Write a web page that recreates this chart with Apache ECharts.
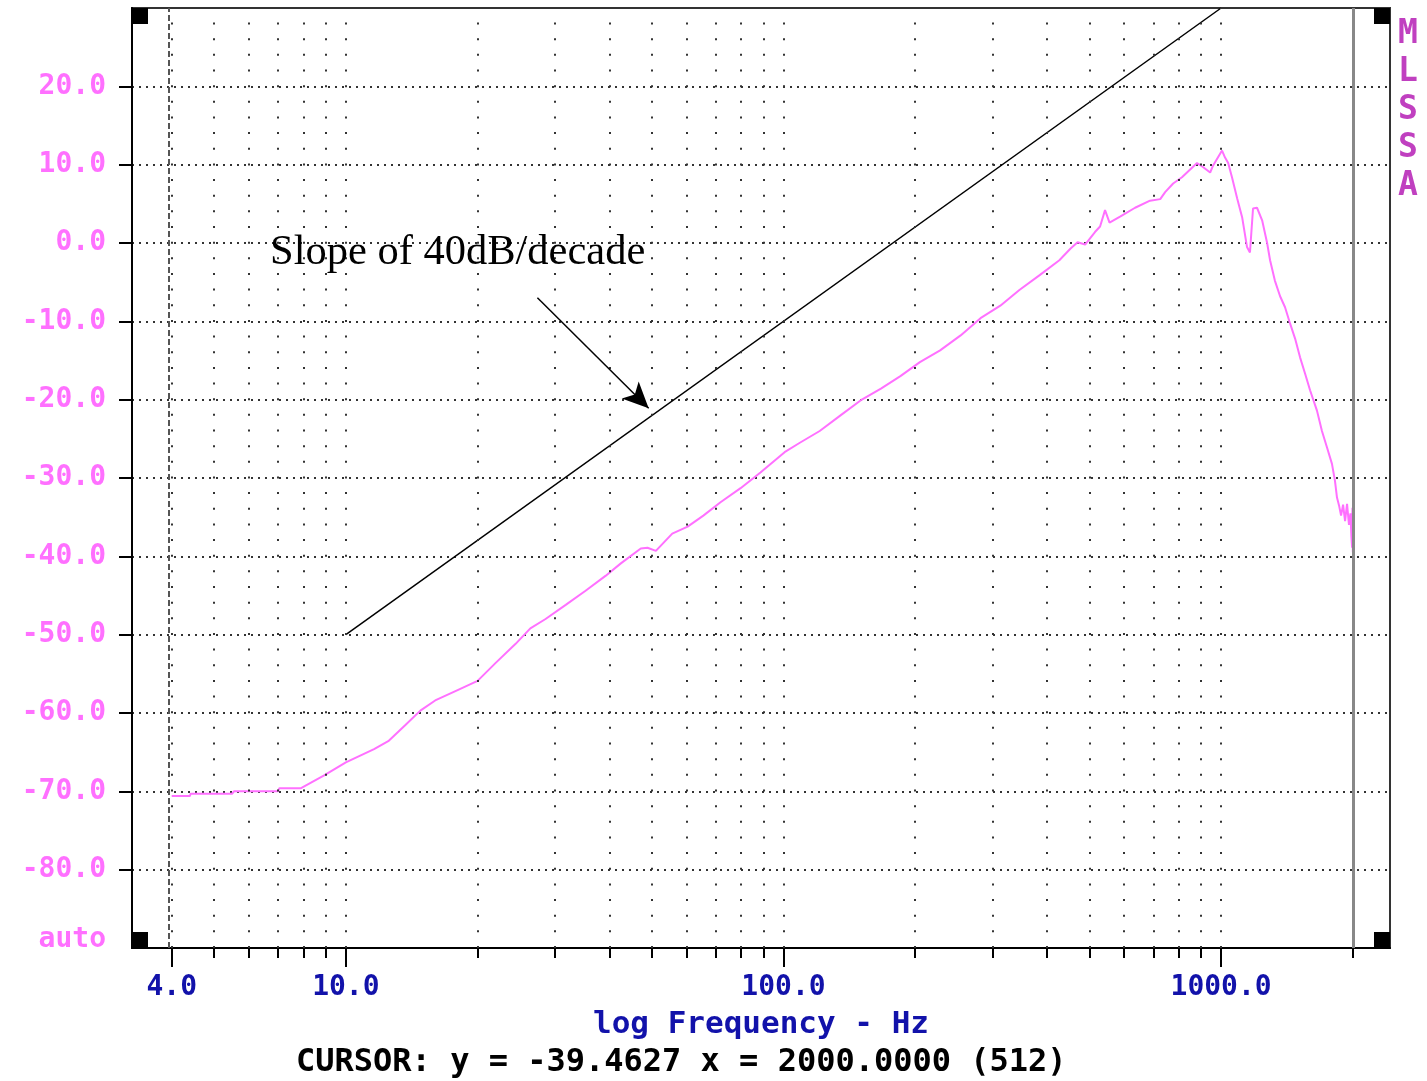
<!DOCTYPE html>
<html>
<head>
<meta charset="utf-8">
<script src="https://cdn.jsdelivr.net/npm/echarts@6/dist/echarts.min.js"></script>
<style>html,body{margin:0;padding:0;background:#fff;}#c{width:1427px;height:1081px;}</style>
</head>
<body>
<div id="c"></div>
<script>
// ---- data ----
const freqHz = [4.0,4.4,4.42,5.5,5.55,7.0,7.05,7.9,8.9,10,11.6,12.5,13.7,14.8,16.0,17.8,20.0,22.0,24.4,26.4,28.6,31.8,35.3,39.2,42.5,47.2,48.9,51.1,55.7,60.4,65.6,71.8,79.8,88.6,100.6,109,121,135,150,167,185,205,228,254,282,313,346,385,427,453,470,489,515,529,543,556,589,636,688,726,745,777,814,881,909,944,959,1005,1021,1038,1060,1088,1117,1146,1164,1183,1208,1241,1274,1294,1327,1364,1400,1438,1476,1515,1556,1597,1656,1700,1746,1792,1820,1840,1860,1880,1900,1920,1940,1960,1975,1985,1992,1996,2000];
const magDb  = [-70.6,-70.6,-70.3,-70.3,-70.0,-70.0,-69.6,-69.6,-68.0,-66.3,-64.6,-63.6,-61.5,-59.7,-58.4,-57.2,-55.9,-53.6,-51.2,-49.2,-48.0,-46.2,-44.4,-42.5,-40.9,-39.0,-38.9,-39.3,-37.1,-36.2,-34.8,-33.1,-31.3,-29.3,-26.7,-25.5,-24.0,-22.0,-20.1,-18.6,-17.0,-15.2,-13.7,-11.8,-9.6,-8.0,-6.0,-4.1,-2.2,-0.7,0.1,-0.2,1.4,2.1,4.2,2.6,3.4,4.5,5.4,5.6,6.5,7.6,8.4,10.2,9.7,9.0,9.9,11.8,10.9,10.2,8.3,5.7,3.3,-0.5,-1.2,4.4,4.5,2.9,0.0,-2.2,-4.8,-6.8,-8.2,-10.3,-12.2,-14.6,-16.7,-18.8,-21.4,-24.0,-26.1,-28.2,-30.3,-32.5,-33.5,-34.8,-33.4,-35.5,-33.3,-36.0,-34.5,-37.5,-38.9,-33.8,-39.4627];

const slopeFreq = [10, 1000];
const slopeDb = [-50, 30];
const arrowFrom = [27.4, -7.0];
const arrowTo = [49.2, -21.1];
const cursorFreq = 2000;
const cursorY = -39.4627;
const cursorIndex = 512;
const markerFreq = 3.93;

const xLabelTicks = [4, 10, 100, 1000];
const xMinorTicks = [5,6,7,8,9,20,30,40,50,60,70,80,90,200,300,400,500,600,700,800,900,2000];
const xGridValues = [4,5,6,7,8,9,10,20,30,40,50,60,70,80,90,100,200,300,400,500,600,700,800,900,1000];
const yTicks = [-80,-70,-60,-50,-40,-30,-20,-10,0,10,20];
const yLabels = [-90,-80,-70,-60,-50,-40,-30,-20,-10,0,10,20];
const xMin = 3.246, xMax = 2432, yMin = -90, yMax = 30;

const xAxisName = 'log Frequency - Hz';
const sideTitle = 'MLSSA';
const slopeText = 'Slope of 40dB/decade';

// ---- chart ----
const chart = echarts.init(document.getElementById('c'), null, {renderer: 'canvas'});
const curve = freqHz.map((f, i) => [f, magDb[i]]);
const slope = slopeFreq.map((f, i) => [f, slopeDb[i]]);

const G = {left: 132, top: 8, right: 1390, bottom: 948};
const pink = '#ff70ff';
const blue = '#1212aa';
const mono = '"DejaVu Sans Mono", "Liberation Mono", monospace';

const gridLines = xGridValues.map(v => ({
  xAxis: v,
  lineStyle: {color: '#333', width: 2, type: [2, 13.652]}
}));

const option = {
  animation: false,
  backgroundColor: '#fff',
  grid: {
    left: G.left, top: G.top, width: G.right - G.left, height: G.bottom - G.top,
    show: true, borderColor: '#333', borderWidth: 2, containLabel: false, outerBoundsMode: 'none'
  },
  xAxis: [
    {
      type: 'log', logBase: 10, min: xMin, max: xMax,
      name: xAxisName, nameLocation: 'middle', nameGap: 61,
      nameTextStyle: {color: blue, fontFamily: mono, fontWeight: 'bold', fontSize: 31},
      axisLine: {show: true, onZero: false, lineStyle: {color: '#000', width: 2}},
      axisTick: {show: true, customValues: xLabelTicks, length: 19, lineStyle: {color: '#000', width: 2}},
      axisLabel: {customValues: xLabelTicks, formatter: v => Number(v).toFixed(1), color: blue,
        fontFamily: mono, fontWeight: 'bold', fontSize: 28, margin: 26},
      splitLine: {show: false}, minorTick: {show: false}, minorSplitLine: {show: false}
    },
    {
      type: 'log', logBase: 10, min: xMin, max: xMax, position: 'bottom', offset: 0,
      axisLine: {show: false, onZero: false},
      axisTick: {show: true, customValues: xMinorTicks, length: 10, lineStyle: {color: '#000', width: 2}},
      axisLabel: {show: false},
      splitLine: {show: false}
    }
  ],
  yAxis: {
    type: 'value', min: yMin, max: yMax, interval: 10,
    axisLine: {show: true, onZero: false, lineStyle: {color: '#000', width: 2}},
    axisTick: {show: true, customValues: yTicks, length: 13, lineStyle: {color: '#000', width: 2}},
    axisLabel: {
      customValues: yLabels,
      formatter: v => (v === yMin ? '{a|auto}' : Number(v).toFixed(1)),
      color: pink, fontFamily: mono, fontWeight: 'bold', fontSize: 28, margin: 26,
      rich: {a: {color: pink, fontFamily: mono, fontWeight: 'bold', fontSize: 28, padding: [0, 0, 16, 0]}}
    },
    splitLine: {show: true, lineStyle: {color: '#333', width: 2, type: [2, 5]}}
  },
  series: [
    {
      type: 'line', xAxisIndex: 0, data: slope, showSymbol: false, symbol: 'none', z: 2,
      lineStyle: {color: '#000', width: 1.5}, silent: true,
      markLine: {
        silent: true, symbol: ['none', 'none'], label: {show: false},
        animation: false,
        data: gridLines.concat([
          {xAxis: markerFreq, lineStyle: {color: '#555', width: 2, type: [6, 3]}},
          {xAxis: cursorFreq, lineStyle: {color: '#888', width: 3, type: 'solid'}},
          [
            {coord: arrowFrom, symbol: 'none', lineStyle: {color: '#000', width: 1.5, type: 'solid'}},
            {coord: arrowTo, symbol: 'arrow', symbolSize: [18, 26]}
          ]
        ])
      }
    },
    {
      type: 'line', xAxisIndex: 0, data: curve, showSymbol: false, symbol: 'none', z: 3,
      lineStyle: {color: pink, width: 2}, silent: true
    }
  ],
  graphic: [
    {type: 'rect', shape: {x: G.left, y: G.top, width: 16, height: 16}, style: {fill: '#000'}, z: 10},
    {type: 'rect', shape: {x: G.right - 16, y: G.top, width: 16, height: 16}, style: {fill: '#000'}, z: 10},
    {type: 'rect', shape: {x: G.left, y: G.bottom - 16, width: 16, height: 16}, style: {fill: '#000'}, z: 10},
    {type: 'rect', shape: {x: G.right - 16, y: G.bottom - 16, width: 16, height: 16}, style: {fill: '#000'}, z: 10},
    {type: 'text', x: 1398, y: 15, z: 10,
      style: {text: sideTitle.split('').join('\n'), font: 'bold 33px ' + mono, fill: '#c040c0', lineHeight: 38}},
    {type: 'text', x: 270, y: 253, z: 10,
      style: {text: slopeText, font: '42.5px "Liberation Serif", "Times New Roman", serif', fill: '#000', verticalAlign: 'middle'}},
    {type: 'text', x: 296, y: 1047, z: 10,
      style: {text: 'CURSOR: y = ' + cursorY.toFixed(4) + ' x = ' + cursorFreq.toFixed(4) + ' (' + cursorIndex + ')',
        font: 'bold 32px ' + mono, fill: '#000'}}
  ]
};
chart.setOption(option);
</script>
</body>
</html>
